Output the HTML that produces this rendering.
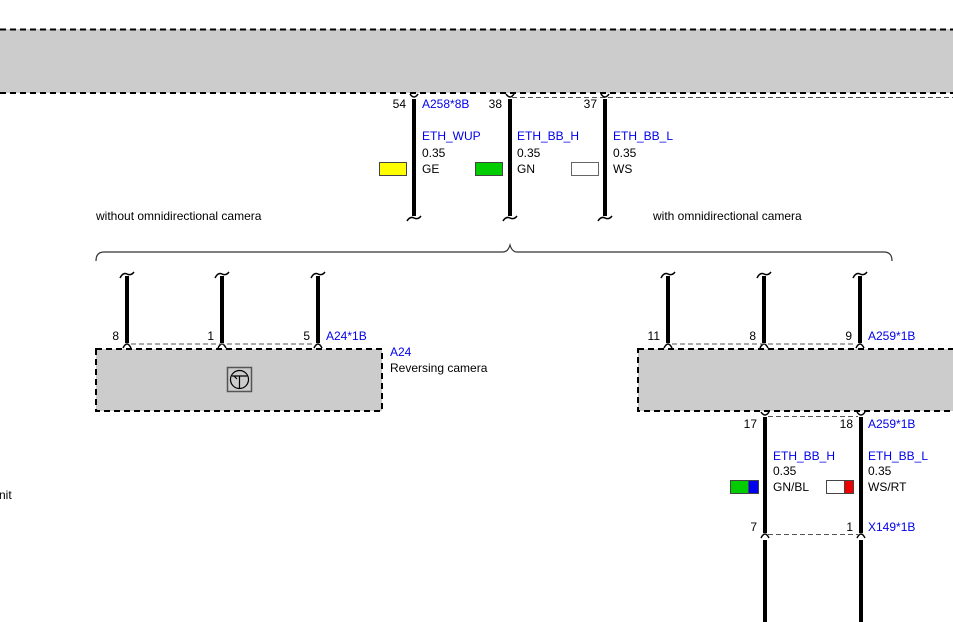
<!DOCTYPE html>
<html><head><meta charset="utf-8"><style>
html,body{margin:0;padding:0;background:#fff}
svg{display:block}
text{font-family:"Liberation Sans",Arial,sans-serif;font-size:12px}
.b{fill:#0000ee}.k{fill:#000}
</style></head><body>
<svg width="953" height="622" viewBox="0 0 953 622" xmlns="http://www.w3.org/2000/svg">
<!-- top box -->
<rect x="-5" y="29" width="970" height="64" fill="#cccccc"/>
<line x1="0" y1="29.5" x2="953" y2="29.5" stroke="#000" stroke-width="2" stroke-dasharray="6,4"/>
<line x1="0" y1="93" x2="953" y2="93" stroke="#000" stroke-width="2" stroke-dasharray="6,4"/>
<line x1="512" y1="97.5" x2="953" y2="97.5" stroke="#555" stroke-width="1" stroke-dasharray="5,3"/>
<g stroke="#000" fill="none">
<!-- top wires -->
<line x1="414" y1="99" x2="414" y2="216" stroke-width="4"/>
<line x1="510" y1="99" x2="510" y2="216" stroke-width="4"/>
<line x1="605" y1="99" x2="605" y2="216" stroke-width="4"/>
<path d="M410 94 Q414 100 418 94M506 94 Q510 100 514 94M601 94 Q605 100 609 94" stroke-width="1.5"/>
<path d="M407 221 Q410 216 414 218 Q418 220 421 216M503 221 Q506 216 510 218 Q514 220 517 216M598 221 Q601 216 605 218 Q609 220 612 216" stroke-width="1.5"/>
<!-- brace -->
<path d="M96 261 Q96 252 104 252 L503 252 Q508 252 510 245 Q512 252 517 252 L884 252 Q892 252 892 261" stroke="#333" stroke-width="1.2"/>
<!-- lower left wires -->
<line x1="127" y1="276" x2="127" y2="343" stroke-width="4"/>
<line x1="222" y1="276" x2="222" y2="343" stroke-width="4"/>
<line x1="318" y1="276" x2="318" y2="343" stroke-width="4"/>
<path d="M120 278 Q123 272 127 274 Q131 276 134 272M215 278 Q218 272 222 274 Q226 276 229 272M311 278 Q314 272 318 274 Q322 276 325 272" stroke-width="1.5"/>
<path d="M123 348 Q127 340 131 348M218 348 Q222 340 226 348M314 348 Q318 340 322 348" stroke-width="1.5"/>
<line x1="131" y1="344" x2="314" y2="344" stroke="#555" stroke-width="1" stroke-dasharray="5,3"/>
<!-- lower right wires -->
<line x1="668" y1="276" x2="668" y2="343" stroke-width="4"/>
<line x1="764" y1="276" x2="764" y2="343" stroke-width="4"/>
<line x1="860" y1="276" x2="860" y2="343" stroke-width="4"/>
<path d="M661 278 Q664 272 668 274 Q672 276 675 272M757 278 Q760 272 764 274 Q768 276 771 272M853 278 Q856 272 860 274 Q864 276 867 272" stroke-width="1.5"/>
<path d="M664 348 Q668 340 672 348M760 348 Q764 340 768 348M856 348 Q860 340 864 348" stroke-width="1.5"/>
<line x1="672" y1="344" x2="856" y2="344" stroke="#555" stroke-width="1" stroke-dasharray="5,3"/>
</g>
<!-- boxes -->
<rect x="96" y="349" width="286" height="62" fill="#cccccc" stroke="#000" stroke-width="2" stroke-dasharray="6,4"/>
<rect x="638" y="349" width="330" height="62" fill="#cccccc" stroke="#000" stroke-width="2" stroke-dasharray="6,4"/>
<rect x="227.5" y="367.5" width="24" height="24" fill="none" stroke="#555" stroke-width="1.5"/>
<circle cx="239.5" cy="379.5" r="9" fill="none" stroke="#000" stroke-width="1.2"/>
<path d="M232 376 L247 376 M239.5 376 L239.5 388 M234 376 L237 379" stroke="#000" stroke-width="1.2" fill="none"/>
<!-- bottom wires -->
<g stroke="#000" fill="none">
<line x1="765" y1="417" x2="765" y2="533" stroke-width="4"/>
<line x1="861" y1="417" x2="861" y2="533" stroke-width="4"/>
<path d="M761 412 Q765 418 769 412M857 412 Q861 418 865 412" stroke-width="1.5"/>
<path d="M761 538 Q765 530 769 538M857 538 Q861 530 865 538" stroke-width="1.5"/>
<line x1="768" y1="416.5" x2="858" y2="416.5" stroke="#555" stroke-width="1" stroke-dasharray="5,3"/>
<line x1="768" y1="534.5" x2="858" y2="534.5" stroke="#555" stroke-width="1" stroke-dasharray="5,3"/>
<line x1="765" y1="540" x2="765" y2="622" stroke-width="4"/>
<line x1="861" y1="540" x2="861" y2="622" stroke-width="4"/>
</g>
<!-- colour swatches -->
<rect x="379.5" y="162.5" width="27" height="13" fill="#ffff00" stroke="#444"/>
<rect x="475.5" y="162.5" width="27" height="13" fill="#00cc00" stroke="#444"/>
<rect x="571.5" y="162.5" width="27" height="13" fill="#fff" stroke="#666"/>
<rect x="730.5" y="480.5" width="18" height="13" fill="#00cc00" stroke="#444"/>
<rect x="748.5" y="480.5" width="10" height="13" fill="#0000ee" stroke="#444"/>
<rect x="826.5" y="480.5" width="18" height="13" fill="#fff" stroke="#444"/>
<rect x="844.5" y="480.5" width="9" height="13" fill="#ee0000" stroke="#444"/>
<!-- texts -->
<text x="406" y="108" text-anchor="end" class="k">54</text>
<text x="422" y="108" class="b">A258*8B</text>
<text x="502" y="108" text-anchor="end" class="k">38</text>
<text x="597" y="108" text-anchor="end" class="k">37</text>
<text x="422" y="140" class="b">ETH_WUP</text>
<text x="422" y="157" class="k">0.35</text>
<text x="422" y="173" class="k">GE</text>
<text x="517" y="140" class="b">ETH_BB_H</text>
<text x="517" y="157" class="k">0.35</text>
<text x="517" y="173" class="k">GN</text>
<text x="613" y="140" class="b">ETH_BB_L</text>
<text x="613" y="157" class="k">0.35</text>
<text x="613" y="173" class="k">WS</text>
<text x="96" y="220" class="k">without omnidirectional camera</text>
<text x="653" y="220" class="k">with omnidirectional camera</text>
<text x="119" y="340" text-anchor="end" class="k">8</text>
<text x="214" y="340" text-anchor="end" class="k">1</text>
<text x="310" y="340" text-anchor="end" class="k">5</text>
<text x="326" y="340" class="b">A24*1B</text>
<text x="390" y="356" class="b">A24</text>
<text x="390" y="372" class="k">Reversing camera</text>
<text x="660" y="340" text-anchor="end" class="k">11</text>
<text x="756" y="340" text-anchor="end" class="k">8</text>
<text x="852" y="340" text-anchor="end" class="k">9</text>
<text x="868" y="340" class="b">A259*1B</text>
<text x="757" y="428" text-anchor="end" class="k">17</text>
<text x="853" y="428" text-anchor="end" class="k">18</text>
<text x="868" y="428" class="b">A259*1B</text>
<text x="773" y="460" class="b">ETH_BB_H</text>
<text x="773" y="475" class="k">0.35</text>
<text x="773" y="491" class="k">GN/BL</text>
<text x="868" y="460" class="b">ETH_BB_L</text>
<text x="868" y="475" class="k">0.35</text>
<text x="868" y="491" class="k">WS/RT</text>
<text x="757" y="531" text-anchor="end" class="k">7</text>
<text x="853" y="531" text-anchor="end" class="k">1</text>
<text x="868" y="531" class="b">X149*1B</text>
<text x="-1" y="499" class="k">nit</text>
</svg>
</body></html>
